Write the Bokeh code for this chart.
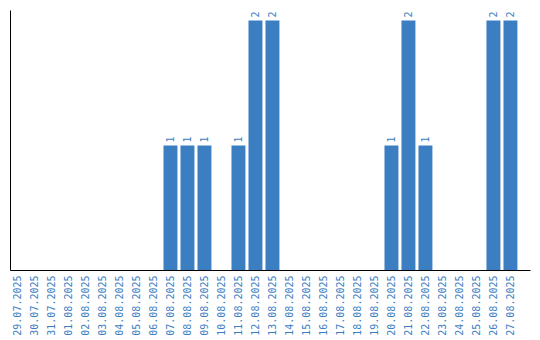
import math
from bokeh.plotting import figure
from bokeh.models import ColumnDataSource, Range1d, FixedTicker
from bokeh.core.properties import value
from bokeh.embed import file_html
from bokeh.resources import INLINE

dates = ["29.07.2025", "30.07.2025", "31.07.2025", "01.08.2025", "02.08.2025",
         "03.08.2025", "04.08.2025", "05.08.2025", "06.08.2025", "07.08.2025",
         "08.08.2025", "09.08.2025", "10.08.2025", "11.08.2025", "12.08.2025",
         "13.08.2025", "14.08.2025", "15.08.2025", "16.08.2025", "17.08.2025",
         "18.08.2025", "19.08.2025", "20.08.2025", "21.08.2025", "22.08.2025",
         "23.08.2025", "24.08.2025", "25.08.2025", "26.08.2025", "27.08.2025"]
counts = [0, 0, 0, 0, 0, 0, 0, 0, 0, 1,
          1, 1, 0, 1, 2, 2, 0, 0, 0, 0,
          0, 0, 1, 2, 1, 0, 0, 0, 2, 2]

BLUE = "#3b7ec1"
FONT = "DejaVu Sans Mono"

idx = list(range(len(dates)))
src = ColumnDataSource(dict(x=[i for i, c in zip(idx, counts) if c > 0],
                            y=[c for c in counts if c > 0],
                            t=[str(c) for c in counts if c > 0]))

p = figure(width=540, height=340, output_backend="svg", toolbar_location=None,
           x_range=Range1d(-0.41, 30.18), y_range=Range1d(0, 2.08),
           min_border_left=10, min_border_right=10, min_border_top=10,
           min_border_bottom=70)
p.outline_line_color = None
p.grid.grid_line_color = None
p.background_fill_color = "white"
p.border_fill_color = "white"

p.vbar(x="x", top="y", width=0.82, bottom=0, source=src,
       fill_color=BLUE, line_color=None)
p.text(x="x", y="y", text="t", source=src, angle=math.pi / 2,
       text_align="left", text_baseline="middle", y_offset=-3,
       text_font=value(FONT), text_font_size="10px", text_color=BLUE)

xa = p.xaxis[0]
xa.ticker = FixedTicker(ticks=idx)
xa.major_label_overrides = {i: d for i, d in enumerate(dates)}
xa.major_label_orientation = math.pi / 2
xa.major_tick_in = 0
xa.major_tick_out = 0
xa.minor_tick_in = 0
xa.minor_tick_out = 0
xa.major_label_standoff = 5
xa.major_label_text_font = FONT
xa.major_label_text_font_size = "10px"
xa.major_label_text_color = BLUE
xa.axis_line_color = "black"
xa.axis_line_width = 1

ya = p.yaxis[0]
ya.ticker = FixedTicker(ticks=[])
ya.major_tick_in = 0
ya.major_tick_out = 0
ya.minor_tick_in = 0
ya.minor_tick_out = 0
ya.major_label_standoff = 0
ya.axis_line_color = "black"

open("out.html", "w").write(file_html(p, INLINE))
